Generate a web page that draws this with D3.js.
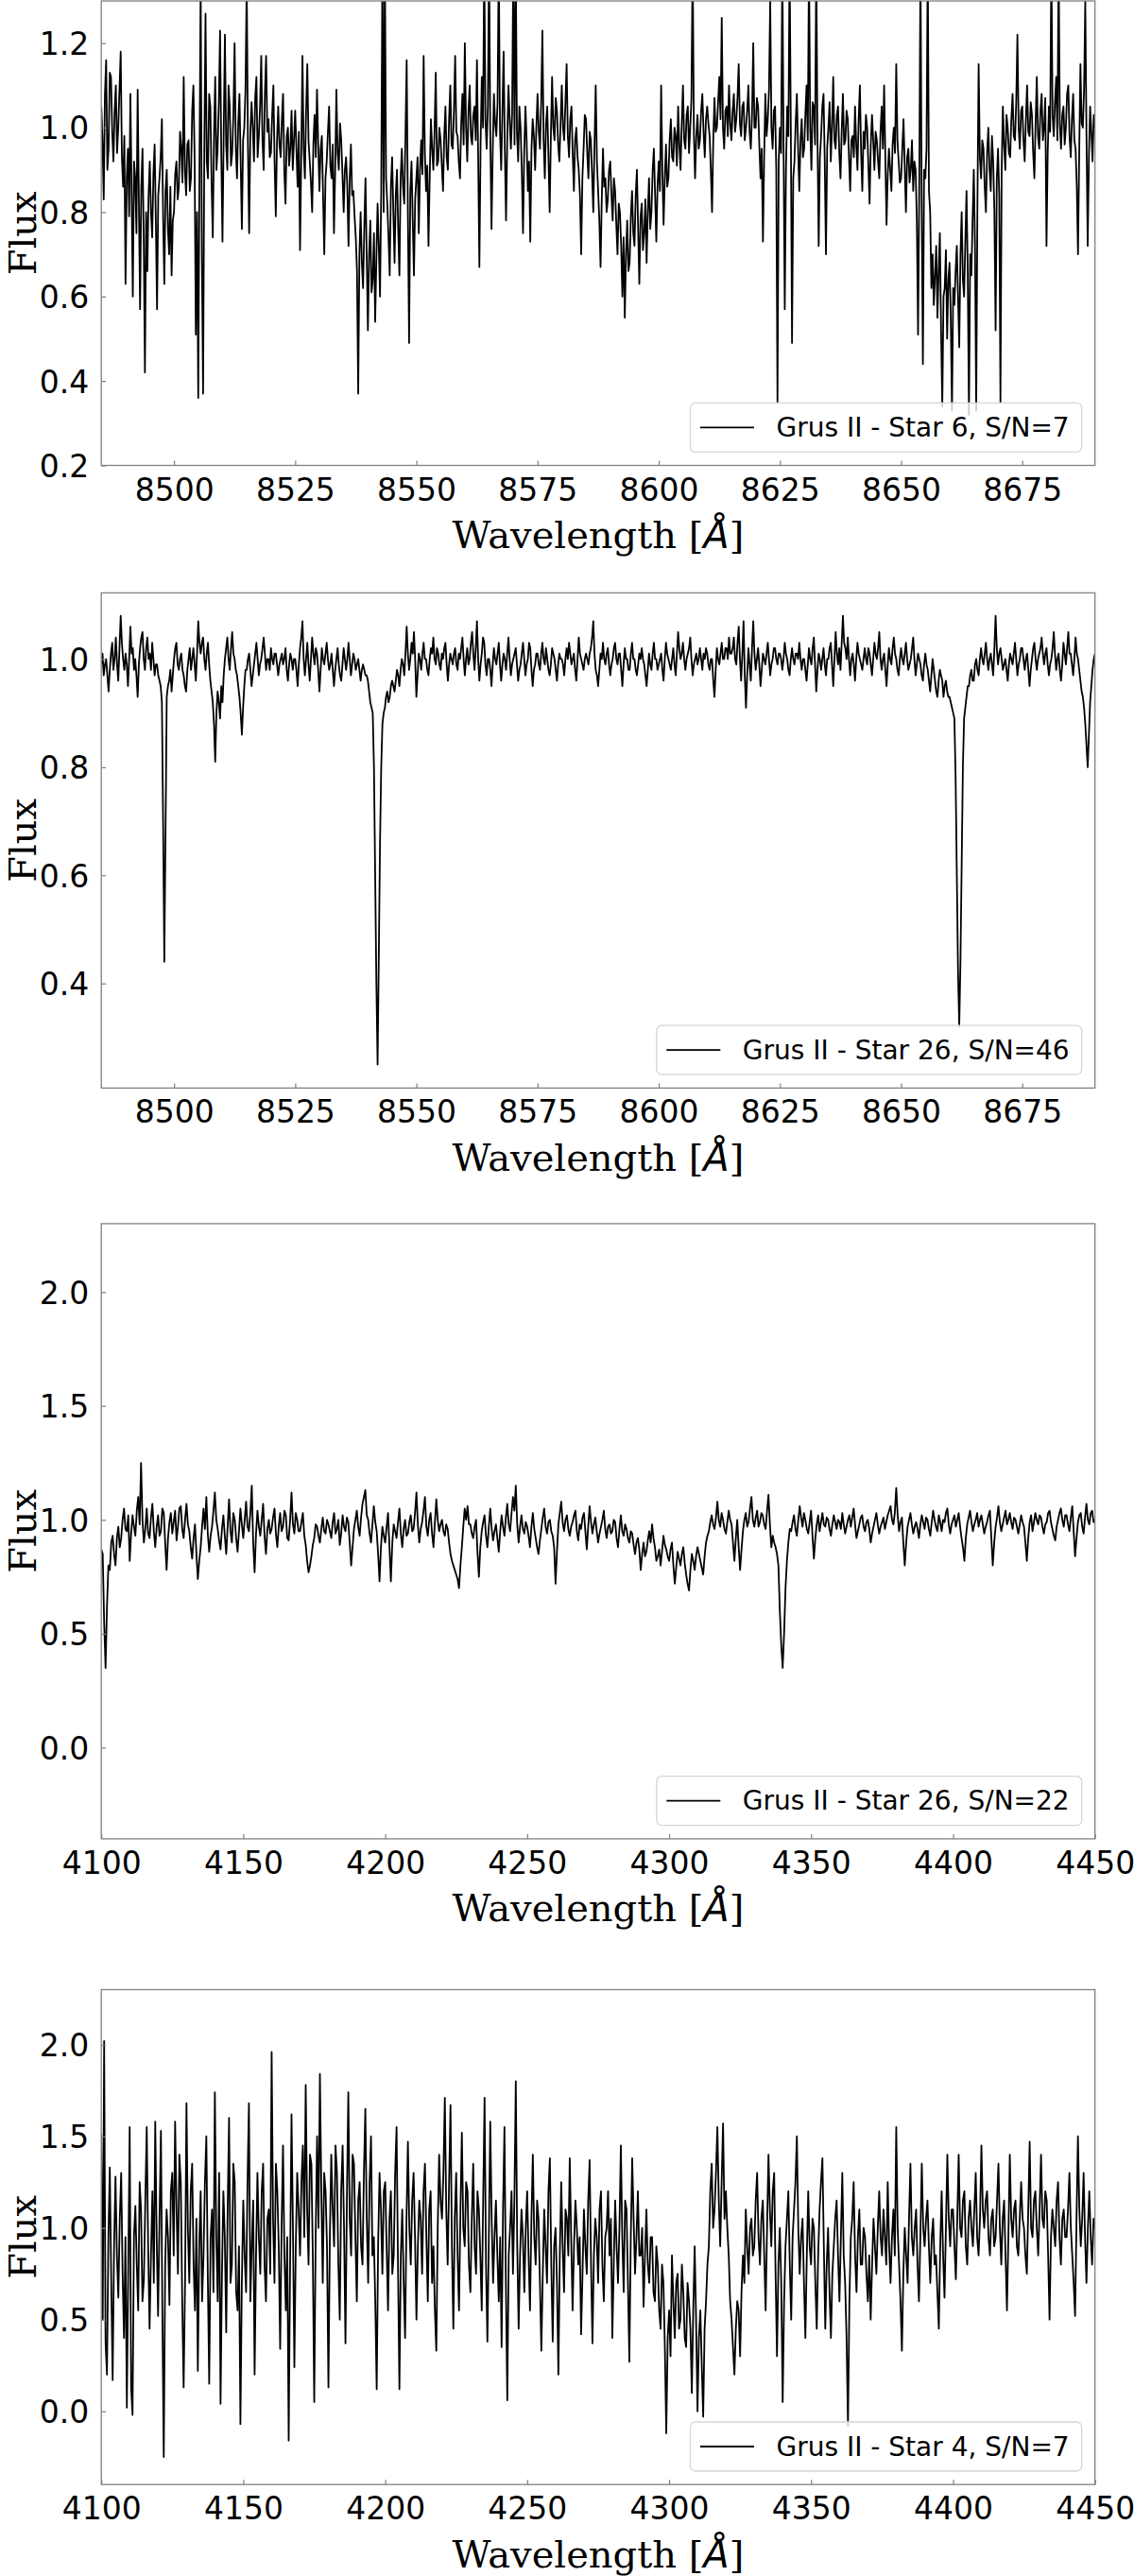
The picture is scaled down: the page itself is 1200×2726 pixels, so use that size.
<!DOCTYPE html>
<html><head><meta charset="utf-8">
<script src="https://cdn.jsdelivr.net/npm/d3@7"></script>
<style>body{margin:0;background:#fff} svg{display:block}</style>
</head><body>
<svg id="c" width="1200" height="2726"></svg>
<script>
// ---------- DATA ----------
// Panel 1: Grus II - Star 6, S/N=7 (Ca triplet), 0.25 A sampling from 8485
const wlStart1 = 8485, wlStep1 = 0.25;
const flux1 = [
1.05,0.97,0.83,1.08,1.16,0.90,0.95,1.13,1.12,0.99,0.92,1.04,1.10,0.94,1.00,1.09,1.18,0.93,0.86,0.98,
0.63,0.88,0.95,0.79,1.08,0.85,0.60,0.92,0.88,0.75,1.09,0.83,0.57,0.86,0.95,0.74,0.42,0.80,0.66,0.84,
0.92,0.80,0.74,0.89,0.96,0.78,0.57,0.84,0.88,0.93,1.02,0.79,0.63,0.85,0.90,0.76,0.70,0.86,0.65,0.78,
0.80,0.89,0.92,0.83,0.86,0.99,0.95,0.87,1.12,0.90,0.84,0.96,0.97,0.85,0.88,1.04,1.10,0.93,0.51,0.80,
0.36,0.90,1.35,0.70,0.37,0.95,1.27,0.92,0.88,1.08,1.05,0.87,0.74,0.98,1.12,0.90,0.95,1.06,1.23,0.94,
0.73,0.99,1.22,0.96,0.90,1.10,1.05,0.91,0.94,1.03,1.20,0.95,0.88,1.01,1.08,0.92,0.76,0.97,1.00,1.09,
1.35,0.96,0.75,0.99,1.06,1.00,0.92,1.07,1.12,0.93,0.98,1.05,1.17,0.97,0.90,1.08,1.17,0.99,1.02,0.93,
0.94,1.03,1.10,0.92,0.79,0.97,1.05,0.96,0.93,1.02,1.08,0.90,0.82,0.98,1.00,0.91,0.95,1.04,0.90,0.97,
1.04,0.95,0.86,0.99,0.71,0.93,1.17,0.95,0.88,1.04,1.15,0.97,0.92,0.87,0.80,0.96,1.03,0.93,1.09,0.96,
0.85,0.95,0.98,0.84,0.70,0.88,0.92,0.99,1.05,0.91,0.88,0.96,0.75,0.90,1.09,0.94,0.90,1.01,0.97,0.89,
0.80,0.90,0.93,0.86,0.72,0.88,0.96,0.84,0.85,0.79,0.74,0.66,0.37,0.70,0.80,0.68,0.62,0.76,0.88,0.70,
0.52,0.70,0.78,0.61,0.64,0.75,0.54,0.69,0.82,0.72,0.60,0.85,1.40,0.80,1.40,0.88,0.82,0.74,0.65,0.86,
0.93,0.80,0.68,0.84,0.90,0.76,0.65,0.88,0.95,0.86,0.82,0.98,1.16,0.80,0.49,0.85,0.92,0.78,0.65,0.83,
0.88,0.93,0.75,0.90,0.97,0.89,1.17,0.94,0.85,0.91,0.72,0.88,1.02,0.95,0.90,0.99,1.13,0.91,0.92,1.00,
0.97,0.91,0.85,0.98,1.05,0.93,0.90,1.02,1.10,0.96,0.95,1.04,1.17,0.99,0.98,0.92,0.88,1.01,1.08,0.96,
1.20,1.00,0.92,1.04,1.10,0.98,0.96,1.03,1.05,0.97,1.16,0.93,0.67,0.96,1.12,1.00,1.40,1.02,0.95,1.05,
1.40,0.98,0.76,0.94,1.08,1.01,0.98,1.06,1.40,0.99,0.90,1.04,1.18,0.95,0.78,0.97,1.10,1.02,0.95,1.03,
1.40,0.96,1.40,0.99,0.92,1.05,1.00,0.90,0.75,0.94,1.05,0.97,0.85,0.92,0.73,0.95,1.02,0.98,0.90,1.00,
1.08,0.99,0.95,1.06,1.23,0.97,0.88,1.01,1.05,0.93,0.80,0.98,1.12,1.00,0.97,1.07,1.04,0.96,0.92,1.01,
1.10,1.00,0.97,1.06,1.15,0.98,0.93,1.02,1.05,0.94,0.85,0.97,1.00,0.93,0.90,0.84,0.70,0.88,0.95,1.03,
1.02,0.94,0.88,0.99,0.97,0.89,0.80,0.96,1.10,0.92,0.85,0.78,0.67,0.83,0.95,0.86,0.88,0.80,0.83,0.90,
0.92,0.84,0.78,0.88,0.85,0.77,0.70,0.82,0.80,0.72,0.60,0.74,0.55,0.70,0.78,0.66,0.68,0.79,0.85,0.75,
0.72,0.84,0.90,0.76,0.63,0.79,0.82,0.71,0.75,0.83,0.68,0.80,0.88,0.76,0.80,0.90,0.95,0.84,0.73,0.86,
0.92,0.85,1.10,0.90,0.77,0.88,0.96,0.86,0.88,0.97,1.02,0.93,0.92,1.00,0.98,0.91,1.05,0.96,0.90,1.01,
1.10,0.97,0.95,1.03,1.05,0.94,1.00,1.07,1.40,0.99,0.88,0.98,1.03,0.95,0.97,1.04,1.08,0.99,0.93,1.02,
1.05,1.01,0.98,0.90,0.80,0.97,1.07,0.99,1.00,1.06,1.12,1.02,1.26,1.00,0.95,1.04,1.05,0.98,1.10,1.01,
0.97,1.04,1.08,0.99,1.02,1.07,1.15,1.01,0.98,1.05,1.06,0.97,1.00,1.04,1.10,0.99,0.95,1.03,1.20,1.00,
1.00,1.07,1.05,0.96,0.88,0.95,0.73,0.93,1.08,0.98,1.02,1.09,1.30,1.00,0.95,1.04,1.05,0.90,0.35,0.92,
1.00,0.94,1.40,0.96,0.57,0.90,1.05,0.98,1.40,1.00,0.49,0.88,0.92,1.01,1.08,0.95,0.85,0.97,1.02,0.93,
0.95,1.03,1.10,0.97,1.40,1.00,0.90,1.06,1.05,0.96,1.40,0.98,0.72,0.93,0.98,1.05,1.08,0.92,0.70,0.95,
1.00,1.06,0.92,1.00,1.12,0.97,0.95,1.03,1.05,0.94,0.88,0.99,1.08,0.96,0.97,1.04,1.02,0.93,0.85,0.97,
0.98,0.93,1.05,0.96,0.90,1.02,1.10,0.94,0.85,0.99,0.95,1.03,1.00,0.91,0.82,0.96,1.03,0.97,0.90,0.99,
0.97,0.92,0.88,0.99,1.05,0.95,1.10,0.93,0.77,0.89,0.95,0.90,0.85,0.96,1.00,0.94,1.15,0.97,0.92,0.87,
0.88,0.95,1.02,0.91,0.80,0.93,0.95,0.87,0.90,0.97,0.85,0.92,0.90,0.78,0.51,0.86,1.40,0.82,0.44,0.90,
0.88,0.95,1.40,0.85,0.80,0.62,0.70,0.58,0.65,0.72,0.55,0.66,0.75,0.52,0.34,0.60,0.62,0.71,0.50,0.64,
0.68,0.55,0.33,0.62,0.58,0.66,0.72,0.60,0.48,0.70,0.80,0.64,0.60,0.73,0.85,0.66,0.32,0.70,0.65,0.78,
0.90,0.72,0.33,0.82,1.15,0.93,0.88,0.97,0.95,0.86,0.80,0.94,1.00,0.90,0.85,0.98,0.92,0.80,0.52,0.88,
0.95,0.84,0.35,0.90,1.05,0.96,0.90,1.03,1.00,0.94,0.93,1.02,1.08,0.98,0.97,1.06,1.22,1.00,0.95,1.04,
1.05,0.97,0.92,1.02,1.10,0.99,0.98,1.06,1.03,0.94,0.88,1.01,1.12,0.98,0.95,1.04,1.08,0.97,1.00,1.07,
0.72,0.94,1.05,0.99,1.40,1.03,0.98,1.06,1.12,0.97,1.40,1.01,0.95,1.03,1.05,0.96,1.00,1.08,1.10,0.98,
0.93,1.02,1.08,0.97,0.95,0.86,0.70,0.94,1.15,1.01,1.00,1.09,1.30,0.98,0.72,0.93,1.05,0.99,0.92,1.03,1.00
];

// Panel 2: Grus II - Star 26, S/N=46 (Ca triplet), 0.25 A sampling from 8485
const wlStart2 = 8485, wlStep2 = 0.25;
const flux2 = [
0.99,1.01,0.97,0.99,1.00,0.97,0.94,0.98,1.01,1.03,0.98,1.00,1.04,0.99,0.96,1.02,1.08,1.03,1.00,0.98,
1.01,0.99,0.95,1.00,1.06,1.01,1.02,0.98,1.00,0.97,0.93,0.99,1.02,1.04,1.05,1.00,0.98,1.02,1.04,1.00,
1.01,0.98,1.03,1.00,0.97,0.99,0.99,0.97,0.96,0.95,0.92,0.70,0.44,0.68,0.93,0.95,0.96,0.98,0.94,0.97,
1.00,1.02,1.03,0.99,0.98,1.00,1.01,0.98,0.97,0.95,0.94,0.98,1.00,1.02,0.98,1.00,1.02,0.99,0.96,1.01,
1.07,1.03,1.01,1.03,1.04,1.00,0.98,1.01,1.03,0.99,0.96,0.94,0.92,0.88,0.81,0.90,0.94,0.92,0.89,0.95,
0.92,0.97,1.00,1.02,1.04,1.00,0.98,1.02,1.05,1.01,1.00,0.98,0.97,0.95,0.93,0.90,0.86,0.91,0.95,0.98,
0.98,1.00,1.01,0.98,0.95,0.97,0.99,1.01,1.03,1.00,0.97,0.99,1.00,1.02,1.04,1.01,0.98,1.00,1.00,0.98,
1.02,1.00,0.99,1.01,1.01,0.99,0.97,0.99,1.00,1.01,0.99,1.00,1.02,0.98,0.96,0.99,1.01,1.00,0.98,1.00,
1.00,0.98,0.95,0.99,1.02,1.04,1.07,1.00,0.97,1.00,1.03,0.99,0.96,1.00,1.04,1.01,0.99,1.02,1.01,0.98,
0.94,0.98,1.02,1.00,0.99,1.01,1.03,1.00,0.98,0.99,1.01,0.98,0.95,0.98,1.00,1.02,0.99,0.97,0.96,0.99,
1.02,1.00,0.98,1.00,1.03,1.00,0.97,0.99,1.01,1.00,0.98,0.99,1.00,0.98,0.96,0.98,0.99,0.98,0.97,0.97,
0.96,0.94,0.92,0.91,0.90,0.80,0.60,0.40,0.25,0.45,0.66,0.80,0.88,0.90,0.91,0.93,0.94,0.92,0.93,0.95,
0.96,0.95,0.94,0.96,0.98,0.97,0.95,0.98,1.00,0.99,0.97,1.01,1.06,1.01,0.98,1.00,1.03,1.01,1.05,1.00,
0.93,0.97,1.01,1.00,0.98,1.01,1.03,1.00,1.00,0.98,0.97,1.00,1.02,1.01,1.04,1.00,0.99,1.02,1.01,0.99,
0.98,1.01,1.00,1.02,1.03,0.99,0.96,0.99,1.01,1.00,0.99,1.01,1.02,0.99,0.98,1.01,1.00,1.02,1.04,1.00,
0.97,1.00,1.02,0.99,1.00,1.03,1.05,1.01,0.98,1.02,1.07,1.00,0.96,0.99,1.01,1.04,1.03,0.99,0.97,1.00,
1.00,0.98,0.95,0.99,1.02,1.00,0.99,1.01,1.03,0.99,0.96,0.99,1.01,1.00,0.98,1.01,1.04,1.00,0.97,0.99,
1.00,1.01,1.02,0.99,0.96,0.98,0.99,1.01,1.03,1.00,0.97,0.99,1.00,1.03,1.02,0.98,0.95,0.98,0.99,1.01,
1.01,0.99,0.98,1.01,1.03,1.00,0.99,1.02,1.00,0.98,0.97,0.99,1.02,1.01,1.00,0.98,0.96,0.99,1.01,1.00,
1.00,0.99,0.97,1.00,1.02,1.00,1.03,1.01,0.99,1.00,1.01,0.98,0.96,1.00,1.04,1.01,1.00,0.99,0.98,1.00,
1.01,1.00,0.99,1.01,1.02,1.04,1.07,1.01,0.98,0.97,0.95,0.98,1.01,1.00,1.03,1.00,0.99,1.01,1.02,0.99,
0.97,0.99,1.00,1.02,1.03,1.00,0.99,1.01,1.01,0.98,0.95,0.99,1.02,1.00,1.00,0.98,0.98,1.01,1.03,1.00,
1.00,0.98,0.97,0.99,1.01,1.00,1.02,1.00,0.99,0.97,0.95,0.98,1.01,0.99,0.98,1.01,1.03,1.00,1.00,0.98,
0.99,1.00,1.01,0.98,0.96,1.00,1.03,1.01,1.00,0.99,0.98,1.00,1.02,0.99,0.97,1.01,1.05,1.02,1.00,1.01,
1.03,1.00,0.98,1.00,1.01,1.02,1.04,1.00,0.97,0.99,1.00,1.01,0.99,1.00,1.02,1.00,0.98,1.01,1.00,1.02,
1.01,0.99,0.98,1.00,1.00,0.96,0.93,0.98,1.02,1.00,0.99,1.01,1.03,1.00,1.00,1.02,1.02,1.00,1.04,1.01,
1.01,1.02,1.04,1.00,0.99,1.03,1.06,1.00,0.96,1.01,1.07,0.97,0.91,0.97,1.02,0.99,0.96,1.02,1.07,1.01,
0.98,1.00,1.02,0.99,0.95,0.98,1.01,1.00,0.99,1.01,1.03,1.00,0.97,0.99,1.00,1.02,1.02,1.00,0.99,1.01,
1.01,1.00,0.98,1.00,1.03,1.01,1.00,0.98,0.97,1.00,1.02,1.00,0.99,1.01,1.01,1.00,1.03,1.00,0.98,1.00,
1.00,0.98,0.96,0.99,1.02,1.00,0.99,1.02,1.04,0.99,0.94,0.98,1.01,1.00,0.98,1.00,1.02,0.99,0.97,1.00,
1.00,1.02,1.03,0.99,0.95,1.00,1.05,1.01,0.99,1.02,0.98,1.03,1.08,1.03,1.02,1.00,1.04,1.00,0.97,1.00,
1.01,0.99,0.96,1.00,1.03,1.01,1.00,0.99,0.98,1.00,1.02,1.00,0.99,1.02,1.01,0.99,0.97,1.00,1.03,1.01,
1.00,1.02,1.05,1.00,0.98,1.00,1.01,0.98,0.95,0.99,1.02,1.00,0.99,1.02,1.04,1.01,1.00,0.98,0.97,1.00,
1.02,1.00,0.99,1.01,1.03,1.00,0.98,0.99,1.00,1.02,1.04,1.00,0.97,0.99,1.01,1.00,0.99,0.97,0.96,0.99,
1.01,0.99,0.98,0.96,0.94,0.97,1.00,0.98,0.96,0.94,0.93,0.96,0.98,0.97,0.96,0.93,0.95,0.96,0.94,0.93,
0.93,0.92,0.91,0.90,0.89,0.78,0.60,0.42,0.32,0.44,0.62,0.80,0.89,0.91,0.93,0.95,0.95,0.97,0.98,0.96,
0.96,0.99,1.00,0.98,0.97,1.00,1.02,1.00,0.99,1.01,1.03,1.00,0.98,1.00,1.01,0.99,0.97,1.02,1.08,1.02,
0.99,1.01,1.02,1.00,0.98,0.99,1.00,0.98,0.96,0.99,1.01,1.00,0.99,1.01,1.03,1.00,0.97,0.99,1.00,1.02,
1.02,1.00,0.98,1.00,1.01,0.98,0.95,0.98,1.00,1.02,1.03,1.00,0.98,1.00,1.01,1.02,1.04,1.01,0.99,1.01,
1.02,0.99,0.97,0.99,1.00,1.02,1.05,1.01,0.98,1.00,1.01,0.98,0.96,0.99,1.03,1.01,0.99,1.02,1.05,1.01,
1.01,0.99,0.97,1.00,1.04,1.01,1.00,0.98,0.96,0.94,0.93,0.91,0.88,0.84,0.80,0.86,0.92,0.95,0.98,1.00,1.01
];

// Panel 3: Grus II - Star 26, S/N=22 (blue), 0.5 A sampling from 4100
const wlStart3 = 4100, wlStep3 = 0.5;
const flux3 = [
0.87,0.85,0.55,0.35,0.62,0.80,0.78,0.90,0.93,0.85,0.80,0.92,0.97,0.88,0.92,1.00,1.05,0.96,0.95,1.02,
0.82,0.94,1.02,0.97,0.93,1.04,1.10,0.98,1.25,1.00,0.90,0.96,1.05,0.94,0.92,1.01,1.07,0.95,0.88,0.97,
1.02,0.93,0.95,1.05,1.03,0.90,0.78,0.92,0.99,1.03,0.94,0.99,1.04,0.91,0.97,1.05,1.06,0.96,0.92,1.00,
1.07,0.98,0.95,0.88,0.83,0.92,0.98,0.85,0.74,0.82,0.88,0.97,1.05,0.96,1.10,0.94,0.86,0.93,0.97,1.04,
1.12,1.00,0.96,0.91,0.87,0.96,1.02,0.93,0.85,0.97,1.09,0.95,0.90,1.03,1.00,0.92,0.86,0.95,1.05,0.98,
0.92,1.00,1.08,0.97,0.95,1.03,1.15,0.90,0.77,0.94,1.04,0.97,0.93,1.00,1.07,0.93,0.85,0.96,1.00,0.94,
0.96,1.01,1.05,0.94,0.88,0.97,1.03,0.95,0.97,1.04,1.02,0.92,0.91,1.00,1.12,0.98,0.94,1.03,1.00,0.95,
0.95,0.99,1.03,0.93,0.89,0.82,0.77,0.80,0.84,0.89,0.92,0.98,0.97,0.93,0.90,0.96,1.01,0.95,0.94,1.00,
0.98,0.95,0.92,0.99,1.03,0.94,0.96,1.00,0.89,0.94,1.02,0.97,0.95,1.01,0.99,0.90,0.80,0.88,0.96,1.00,
1.04,0.97,0.93,1.01,1.07,1.10,1.13,1.02,1.00,0.94,0.90,0.98,1.06,0.99,0.95,0.85,0.73,0.88,0.97,0.93,
0.90,0.97,1.03,0.88,0.73,0.90,0.98,0.95,0.92,0.99,1.05,0.94,0.88,0.96,1.00,0.93,0.94,0.99,1.02,0.95,
0.96,1.03,1.12,0.98,0.90,0.96,0.99,1.04,1.10,0.97,0.93,1.00,1.03,0.94,0.88,0.99,1.09,1.00,0.95,0.98,
1.00,0.95,0.93,0.98,0.96,0.90,0.85,0.82,0.80,0.78,0.76,0.74,0.70,0.80,0.88,0.97,1.05,1.00,1.06,0.98,
0.98,0.94,0.92,0.97,1.00,0.86,0.75,0.88,0.95,0.99,1.02,0.93,0.88,0.97,1.05,0.96,0.91,0.95,0.98,0.92,
0.86,0.95,1.02,0.97,0.93,1.01,1.07,0.98,0.95,1.03,1.10,1.04,1.15,0.98,0.90,0.97,1.02,0.96,0.94,0.99,
0.97,0.93,0.88,0.97,1.03,0.96,0.92,0.88,0.85,0.91,0.96,1.01,1.05,0.97,0.94,0.99,1.00,0.95,0.93,0.88,
0.72,0.86,0.98,1.03,1.08,0.99,0.95,1.00,1.02,0.96,0.93,0.97,0.99,1.02,1.04,0.95,0.91,0.98,0.96,1.01,
1.03,0.95,0.87,0.97,1.06,0.99,0.94,0.98,1.01,0.95,0.90,0.94,0.97,1.00,1.04,0.96,0.92,0.97,0.98,0.94,
0.95,1.00,0.99,0.92,0.88,0.96,1.02,0.95,0.93,0.98,0.96,0.92,0.90,0.95,0.94,0.89,0.85,0.90,0.92,0.87,
0.78,0.85,0.90,0.84,0.86,0.91,0.95,0.90,0.98,0.92,0.88,0.82,0.84,0.87,0.80,0.86,0.93,0.89,0.87,0.84,
0.82,0.87,0.90,0.80,0.72,0.79,0.86,0.83,0.80,0.85,0.88,0.81,0.76,0.72,0.69,0.78,0.85,0.82,0.78,0.84,
0.88,0.85,0.82,0.79,0.76,0.84,0.90,0.93,0.95,0.99,1.02,0.98,0.96,1.01,1.08,1.00,0.97,1.03,1.00,0.96,
0.94,0.99,1.04,1.00,0.98,0.90,0.82,0.92,1.00,0.88,0.78,0.87,0.95,1.00,1.03,0.97,0.99,1.05,1.10,1.00,
0.97,1.01,1.04,0.97,0.99,1.03,1.02,0.98,0.96,1.04,1.11,0.98,0.88,0.93,0.90,0.88,0.85,0.80,0.60,0.45,
0.35,0.50,0.70,0.82,0.90,0.96,0.95,0.99,1.02,0.96,0.93,1.00,1.06,1.01,0.97,1.03,1.00,0.96,0.94,0.99,
1.04,0.93,0.83,0.92,0.98,1.02,0.95,0.99,1.03,0.98,0.97,1.01,1.00,0.96,0.93,0.98,1.02,0.99,0.96,1.00,
0.99,0.96,1.03,0.98,0.94,0.97,1.00,1.02,0.97,1.01,1.05,0.98,0.92,0.95,0.98,1.01,1.02,0.97,0.95,0.99,
1.00,0.96,0.90,0.94,0.97,1.00,1.03,0.98,0.94,0.97,0.99,1.01,0.96,0.99,1.02,1.04,1.06,1.00,0.98,1.03,
1.14,1.02,0.95,0.99,1.01,0.90,0.80,0.90,0.97,1.00,1.03,0.98,0.94,0.97,0.99,0.96,0.92,0.98,1.02,0.99,
0.96,1.01,1.00,0.96,0.93,0.99,1.04,1.00,0.97,0.95,1.02,0.99,0.95,1.00,0.99,1.03,1.05,0.98,0.94,0.98,
1.00,1.02,0.97,1.00,1.03,0.97,0.92,0.88,0.82,0.92,0.98,1.01,1.04,0.99,0.95,0.98,1.00,1.03,0.97,1.00,
1.02,0.98,0.94,0.97,0.99,1.02,1.04,0.92,0.80,0.90,0.97,1.01,1.06,0.99,0.95,0.98,1.01,1.04,0.98,1.00,
1.03,0.99,0.96,1.01,1.00,0.97,0.94,0.98,1.02,0.99,0.97,0.90,0.82,0.92,0.99,1.02,0.95,0.99,1.03,1.00,
0.98,1.02,1.01,0.97,0.94,0.98,0.99,1.03,1.04,0.99,0.96,0.93,0.91,0.97,1.00,1.03,1.05,1.00,0.97,1.02,
1.02,0.98,0.95,1.01,1.06,0.95,0.84,0.92,0.99,1.02,1.03,0.97,0.94,1.01,1.07,1.00,0.98,1.03,1.04,0.99,
1.00
];

// Panel 4: Grus II - Star 4, S/N=7 (blue), 0.5 A sampling from 4100
const wlStart4 = 4100, wlStep4 = 0.5;
const flux4 = [
1.51,0.50,2.02,0.37,0.20,0.95,1.33,0.70,0.17,0.90,1.28,0.85,0.62,1.05,1.30,0.75,0.40,0.95,0.02,0.80,
1.55,0.13,-0.02,0.95,1.12,0.80,0.55,1.25,1.10,0.60,0.72,1.15,1.55,0.90,0.45,0.85,1.20,0.70,1.58,0.95,
0.52,1.05,1.53,0.55,-0.25,0.80,1.10,0.95,0.58,1.20,1.30,0.85,1.58,1.10,0.75,1.40,1.25,0.60,0.13,0.70,
1.68,1.00,0.70,1.20,1.35,0.80,0.55,1.05,0.22,0.90,1.20,0.60,0.85,1.25,1.50,0.75,0.15,0.95,1.10,0.65,
1.74,0.95,0.60,1.30,0.04,0.75,1.20,0.95,0.43,1.10,1.60,0.70,0.80,1.35,1.25,0.65,0.55,0.90,-0.07,0.70,
1.15,0.85,0.65,1.25,1.68,0.60,0.90,1.15,0.20,0.85,1.30,0.95,0.75,1.20,1.35,0.80,0.60,1.05,1.10,0.75,
1.96,1.05,0.70,1.35,1.20,0.90,0.34,1.00,1.45,0.85,0.55,0.95,-0.16,0.80,1.62,1.00,0.24,0.90,1.30,1.10,
0.85,1.25,1.45,0.95,1.78,1.10,0.80,1.40,1.35,0.85,0.05,0.95,1.50,1.00,1.84,1.20,0.70,1.30,1.20,0.90,
0.13,0.95,1.40,1.10,0.90,1.45,1.30,0.80,0.50,1.20,1.45,1.00,0.37,1.15,1.74,1.05,0.85,1.40,1.35,0.95,
0.60,1.15,1.25,0.90,0.80,1.30,1.65,1.05,0.70,1.25,1.50,0.85,0.95,0.60,0.12,0.90,1.30,1.10,0.75,1.20,
1.25,0.90,0.55,1.05,1.20,0.75,0.85,1.30,1.55,0.80,0.12,0.85,1.10,0.70,0.40,1.05,1.47,1.00,0.80,1.15,
1.30,0.95,0.50,0.90,1.15,1.05,0.75,1.20,1.35,0.95,0.60,1.10,1.20,0.70,0.90,0.55,0.33,1.00,1.40,1.15,
1.05,1.30,1.71,1.10,0.80,1.25,1.67,0.90,0.45,1.05,1.30,0.85,0.55,1.10,1.52,1.00,0.90,1.25,1.20,0.80,
0.65,1.05,1.35,0.90,0.75,1.20,1.10,0.85,0.55,1.15,1.71,0.80,0.38,0.95,1.58,1.05,0.70,0.95,1.15,0.85,
0.60,0.95,0.35,1.10,1.55,0.70,0.06,0.85,1.00,1.20,0.75,1.15,1.80,0.90,0.45,0.85,1.10,0.95,0.65,1.00,
1.20,0.85,0.55,1.05,1.40,0.95,0.80,1.15,1.05,0.70,0.33,0.75,1.10,0.90,0.70,1.20,1.38,0.80,0.38,0.90,
1.00,0.70,0.20,0.85,1.25,0.90,0.65,1.10,1.05,0.85,1.38,0.95,0.55,0.90,1.15,1.00,0.80,0.95,0.42,0.75,
1.10,0.90,0.75,1.15,1.37,0.80,0.37,0.85,1.05,0.95,0.70,1.10,1.20,0.80,0.60,0.95,1.00,1.20,0.85,1.05,
0.40,0.80,1.15,0.90,0.70,1.00,1.45,0.95,0.65,1.15,1.10,0.70,0.27,0.95,1.38,1.05,0.75,0.95,1.20,0.85,
0.85,1.00,0.57,0.85,1.10,0.80,0.70,0.95,0.95,0.65,0.60,0.90,0.80,0.55,0.45,0.80,0.70,0.35,-0.12,0.40,
0.55,0.30,0.85,0.60,0.40,0.70,0.75,0.45,0.50,0.80,0.65,0.40,0.35,0.70,0.60,0.45,0.10,0.55,0.90,0.50,
0.00,0.40,0.55,0.25,-0.03,0.45,0.60,0.80,0.90,1.20,1.35,1.00,1.10,1.30,1.55,1.15,0.90,1.25,1.57,1.05,
1.20,1.00,0.85,0.60,0.50,0.35,0.20,0.45,0.60,0.55,0.30,0.65,0.85,0.70,1.10,0.90,0.75,1.00,1.05,0.85,
0.90,1.15,1.30,0.95,0.80,1.05,1.15,0.85,0.55,1.00,1.40,1.10,0.90,1.20,1.30,0.75,0.30,0.80,1.00,0.70,
0.05,0.60,0.90,1.05,1.20,0.80,0.50,0.95,1.10,1.25,1.50,1.00,0.75,0.95,1.05,0.70,0.40,0.85,1.20,0.90,
0.80,1.05,1.00,0.70,0.45,0.85,1.10,1.25,1.38,0.90,0.45,0.80,1.00,0.65,0.40,0.75,0.90,1.05,1.15,0.85,
0.60,0.95,1.30,0.85,0.70,0.40,-0.08,0.60,0.95,1.05,1.25,0.85,0.65,0.95,1.10,0.80,0.80,1.00,0.95,0.75,
0.60,0.85,0.50,0.80,1.05,0.90,0.75,1.00,1.20,0.95,0.85,1.10,0.95,0.80,1.25,0.90,0.70,0.95,1.10,0.85,
1.55,1.00,0.80,0.60,0.33,0.75,1.00,0.85,0.70,1.05,1.35,0.95,0.85,1.00,1.10,0.80,0.60,0.95,1.35,1.00,
0.90,1.05,1.15,0.90,0.70,0.95,1.05,0.80,0.85,0.65,0.45,0.90,1.20,0.85,0.62,1.00,1.40,1.05,0.90,1.10,
1.10,0.90,0.72,1.05,1.40,1.00,0.95,1.15,1.20,0.90,0.80,1.05,1.15,1.00,0.90,1.10,1.30,0.95,0.85,1.05,
1.45,1.10,1.00,1.15,1.20,0.95,0.85,1.05,1.10,0.90,0.95,1.15,1.35,1.00,0.80,1.05,1.15,0.85,0.55,0.95,
1.40,1.05,0.95,1.10,1.15,0.90,0.85,1.05,1.25,1.05,1.00,0.85,0.75,1.10,1.47,1.00,0.95,1.15,1.20,1.00,
0.85,1.10,1.40,1.05,1.00,1.20,1.15,0.85,0.50,0.95,1.10,1.00,0.90,1.15,1.25,0.95,0.80,1.05,1.10,0.95,
0.95,1.10,1.30,1.00,0.85,0.70,0.52,1.05,1.50,1.10,0.90,1.05,1.30,0.95,0.70,1.00,1.20,0.95,0.80,1.05,
1.00
];

const xTicksRed = [8500, 8525, 8550, 8575, 8600, 8625, 8650, 8675];
const xTicksBlue = [4100, 4150, 4200, 4250, 4300, 4350, 4400, 4450];
const yTicks1 = [0.2, 0.4, 0.6, 0.8, 1.0, 1.2];
const yTicks2 = [0.4, 0.6, 0.8, 1.0];
const yTicks34 = [0.0, 0.5, 1.0, 1.5, 2.0];
const legendLabels = ["Grus II - Star 6, S/N=7", "Grus II - Star 26, S/N=46", "Grus II - Star 26, S/N=22", "Grus II - Star 4, S/N=7"];

// ---------- LAYOUT ----------
const L = 107.2, R = 1158.7;
const panels = [
  {flux: flux1, start: wlStart1, step: wlStep1, xd: [8485, 8690], yd: [0.2, 1.3], xt: xTicksRed, yt: yTicks1, top: 1, bottom: 492.5, leg: legendLabels[0]},
  {flux: flux2, start: wlStart2, step: wlStep2, xd: [8485, 8690], yd: [0.2065, 1.1224], xt: xTicksRed, yt: yTicks2, top: 627.4, bottom: 1151.4, leg: legendLabels[1]},
  {flux: flux3, start: wlStart3, step: wlStep3, xd: [4100, 4450], yd: [-0.4, 2.3], xt: xTicksBlue, yt: yTicks34, top: 1294.9, bottom: 1945.9, leg: legendLabels[2]},
  {flux: flux4, start: wlStart4, step: wlStep4, xd: [4100, 4450], yd: [-0.4, 2.3], xt: xTicksBlue, yt: yTicks34, top: 2105.5, bottom: 2629.2, leg: legendLabels[3]}
];

const svg = d3.select("#c");
const SANS = "DejaVu Sans, sans-serif", SERIF = "DejaVu Serif, serif";
const spineColor = "#808080";

panels.forEach((p, i) => {
  const x = d3.scaleLinear().domain(p.xd).range([L, R]);
  const y = d3.scaleLinear().domain(p.yd).range([p.bottom, p.top]);
  const g = svg.append("g");

  const cid = "clip" + i;
  svg.append("clipPath").attr("id", cid).append("rect")
    .attr("x", L).attr("y", p.top).attr("width", R - L).attr("height", p.bottom - p.top);

  const pts = p.flux.map((f, k) => [p.start + k * p.step, f]);
  const line = d3.line().x(d => x(d[0])).y(d => y(d[1]));
  g.append("path").datum(pts).attr("d", line)
    .attr("clip-path", `url(#${cid})`)
    .attr("fill", "none").attr("stroke", "#000").attr("stroke-width", 1.8)
    .attr("stroke-linejoin", "round");

  // axes (ticks inward)
  const xAxis = d3.axisBottom(x).tickValues(p.xt).tickSize(-5).tickPadding(0).tickFormat(d3.format("d"));
  const xa = g.append("g").attr("transform", `translate(0,${p.bottom})`).call(xAxis);
  xa.select(".domain").remove();
  xa.selectAll(".tick line").attr("stroke", spineColor).attr("stroke-width", 1.2);
  xa.selectAll(".tick text").attr("font-family", SANS).attr("font-size", 33).attr("fill", "#000")
    .attr("dy", null).attr("y", 37);

  const yAxis = d3.axisLeft(y).tickValues(p.yt).tickSize(-5).tickPadding(0).tickFormat(d3.format(".1f"));
  const ya = g.append("g").attr("transform", `translate(${L},0)`).call(yAxis);
  ya.select(".domain").remove();
  ya.selectAll(".tick line").attr("stroke", spineColor).attr("stroke-width", 1.2);
  ya.selectAll(".tick text").attr("font-family", SANS).attr("font-size", 33).attr("fill", "#000")
    .attr("x", -13).attr("dy", "0.36em");

  // frame
  g.append("rect").attr("x", L).attr("y", p.top).attr("width", R - L).attr("height", p.bottom - p.top)
    .attr("fill", "none").attr("stroke", spineColor).attr("stroke-width", 1.3);

  // labels
  const xl = g.append("text").attr("x", (L + R) / 2).attr("y", p.bottom + 87.5)
    .attr("text-anchor", "middle").attr("font-family", SERIF).attr("font-size", 40).attr("fill", "#000");
  xl.append("tspan").text("Wavelength [");
  xl.append("tspan").attr("font-family", SANS).attr("font-style", "italic").text("Å");
  xl.append("tspan").text("]");

  g.append("text").attr("transform", `translate(38,${(p.top + p.bottom) / 2}) rotate(-90)`)
    .attr("text-anchor", "middle").attr("font-family", SERIF).attr("font-size", 40).attr("fill", "#000")
    .text("Flux");

  // legend
  const lg = g.append("g");
  const boxRight = R - 14, boxBottom = p.bottom - 14.2, boxH = 52;
  const cy = boxBottom - boxH / 2;
  const txt = lg.append("text").attr("x", boxRight - 13).attr("y", cy + 9.7)
    .attr("text-anchor", "end").attr("font-family", SANS).attr("font-size", 28).attr("fill", "#000")
    .text(p.leg);
  const tw = txt.node().getComputedTextLength();
  const tStart = boxRight - 13 - tw;
  const lineEnd = tStart - 23.5, lineStart = lineEnd - 57;
  const boxLeft = lineStart - 10.5;
  lg.insert("rect", "text").attr("x", boxLeft).attr("y", boxBottom - boxH).attr("width", boxRight - boxLeft).attr("height", boxH)
    .attr("rx", 5.5).attr("fill", "#fff").attr("fill-opacity", 0.8).attr("stroke", "#d5d5d5").attr("stroke-width", 1.3);
  lg.append("line").attr("x1", lineStart).attr("x2", lineEnd).attr("y1", cy).attr("y2", cy)
    .attr("stroke", "#000").attr("stroke-width", 1.8);
});
</script>
</body></html>
